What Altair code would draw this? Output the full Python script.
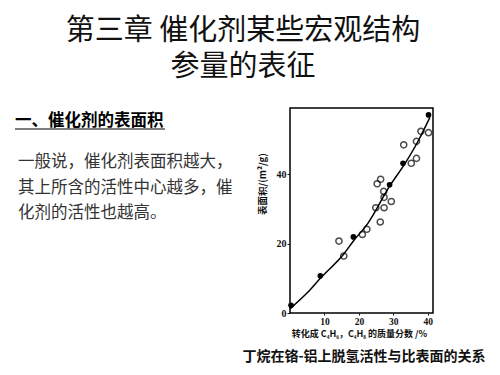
import altair as alt
import pandas as pd

# ---- data ----
filled_x = [0.3, 8.8, 18.4, 28.9, 32.8, 40.2]
filled_y = [2.2, 10.7, 21.9, 36.9, 43.1, 57.0]

open_x = [14.2, 15.6, 21.0, 22.3, 24.9, 25.3, 26.3, 26.2, 27.2, 27.3, 27.3, 29.4,
          33.0, 35.2, 36.7, 36.7, 38.0, 40.2]
open_y = [20.7, 16.4, 22.6, 24.1, 30.3, 37.2, 38.5, 26.2, 35.0, 33.3, 30.3, 32.1,
          48.4, 43.1, 44.5, 49.4, 52.3, 51.9]

curve_x = [0, 5, 9, 15.6, 18.3, 22.6, 28.9, 33.3, 37.2, 40.6]
curve_y = [1.2, 5.8, 10.2, 17.0, 20.6, 25.8, 36.5, 42.9, 49.5, 56.3]

title_lines = ["第三章 催化剂某些宏观结构", "参量的表征"]
heading = "一、催化剂的表面积"
para_lines = ["一般说，催化剂表面积越大，", "其上所含的活性中心越多，催", "化剂的活性也越高。"]
x_title = "转化成 C₄H₆，C₄H₈ 的质量分数 /%"
y_title = "表面积/(m²/g)"
caption = "丁烷在铬-铝上脱氢活性与比表面的关系"

x_ticks = [10, 20, 30, 40]
y_ticks = [0, 20, 40]

W, H = 143, 205
xs = alt.Scale(domain=[0, 41.5], nice=False, zero=False)
ys = alt.Scale(domain=[0, 59], nice=False, zero=False)

df_f = pd.DataFrame({"x": filled_x, "y": filled_y})
df_o = pd.DataFrame({"x": open_x, "y": open_y})
df_c = pd.DataFrame({"x": curve_x, "y": curve_y})

xax = alt.Axis(values=x_ticks, title=None, tickSize=2, labelPadding=1, grid=False,
               domain=False, labelFont="Liberation Serif", labelFontSize=9.5,
               labelFontWeight="bold", labelColor="#111", tickColor="#111")
yax = alt.Axis(values=y_ticks, title=None, tickSize=3, labelPadding=1, grid=False,
               domain=False, labelFont="Liberation Serif", labelFontSize=10,
               labelFontWeight="bold", labelColor="#111", tickColor="#111")

curve = alt.Chart(df_c).mark_line(color="black", strokeWidth=1.5, interpolate="monotone").encode(
    x=alt.X("x:Q", scale=xs, axis=xax), y=alt.Y("y:Q", scale=ys, axis=yax))
opens = alt.Chart(df_o).mark_point(shape="circle", filled=False, color="black",
                                   strokeWidth=1.5, size=38).encode(
    x=alt.X("x:Q", scale=xs), y=alt.Y("y:Q", scale=ys))
fills = alt.Chart(df_f).mark_point(shape="circle", filled=True, color="black",
                                   opacity=1, size=32).encode(
    x=alt.X("x:Q", scale=xs), y=alt.Y("y:Q", scale=ys))

def txt(s, x, y, size, weight="normal", align="left", color="black", angle=0,
        font="Noto Sans CJK SC"):
    return alt.Chart(pd.DataFrame({"t": [s]})).mark_text(
        align=align, baseline="middle", fontSize=size, fontWeight=weight,
        color=color, font=font, angle=angle).encode(
        text="t:N", x=alt.value(x), y=alt.value(y))

layers = [curve, opens, fills]
layers.append(txt(title_lines[0], -47, -77, 29, align="center", color="#111"))
layers.append(txt(title_lines[1], -47, -41, 29, align="center", color="#111"))
layers.append(txt(heading, -275, 13, 16.5, weight="bold"))
layers.append(alt.Chart(pd.DataFrame({"a": [0]})).mark_rule(color="black", strokeWidth=1.2).encode(
    x=alt.value(-275), x2=alt.value(-125), y=alt.value(21)))
for i, line in enumerate(para_lines):
    layers.append(txt(line, -272, 54 + i * 25.5, 16.5, color="#333"))
layers.append(txt(y_title, -27, 107, 9.5, weight="bold", angle=270, color="#111"))
layers.append(txt(x_title, W / 2 - 2, H + 21, 9, weight="bold", align="center", color="#111"))
layers.append(txt(caption, 74, H + 44, 14, weight="bold", align="center", color="#111"))

chart = alt.layer(*layers).properties(
    width=W, height=H,
    background="white",
    autosize=alt.AutoSizeParams(type="none"),
    padding={"left": 282, "top": 100, "right": 59, "bottom": 54},
).configure_view(stroke="black", strokeWidth=1.5)

chart.save("out.html", embed_options={"renderer": "svg", "actions": False})
